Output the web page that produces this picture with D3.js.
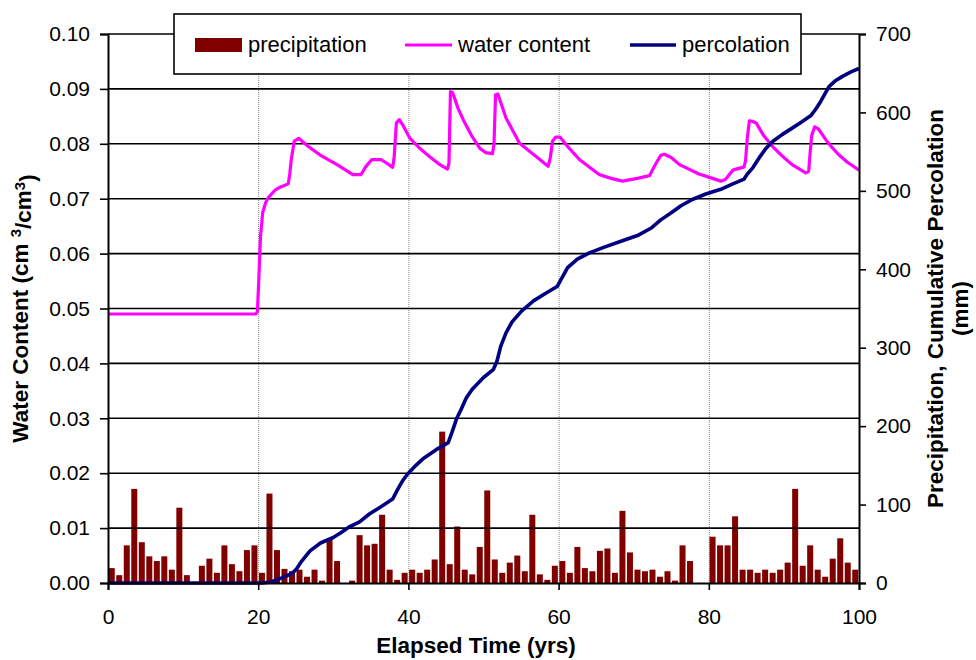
<!DOCTYPE html>
<html>
<head>
<meta charset="utf-8">
<script src="https://cdn.jsdelivr.net/npm/d3@7"></script>
<style>
  html, body { margin: 0; padding: 0; background: #fff; }
  svg { display: block; }
  text { font-family: "Liberation Sans", Arial, sans-serif; fill: #000; }
</style>
</head>
<body>
<svg id="chart" width="976" height="660"></svg>
<script>
// ---- data ----
const precipYears = d3.range(0, 100);
const precipitation = [
  19,10,48,120,52,34,28,34,17,96,
  10,0,22,31,13,48,24,15,42,48,
  13,114,42,18,15,17,8,17,3,57,
  28,0,3,61,48,50,87,17,4,13,
  17,13,17,30,193,24,72,17,11,46,
  118,30,13,26,35,15,87,11,4,22,
  28,13,46,19,15,41,44,13,92,39,
  17,15,17,8,15,3,48,28,0,0,
  59,48,48,85,17,17,13,17,13,17,
  26,120,22,48,17,8,31,57,26,17
];

const waterYears = [0,19.7,19.9,20.1,20.3,20.6,21.0,21.4,22.2,22.9,24.0,24.2,24.4,24.8,25.4,26.5,28.2,30.5,32.6,33.7,34.3,35.1,36.4,37.3,37.9,38.1,38.4,38.8,39.3,40.2,41.5,42.8,44.2,45.2,45.4,45.6,45.9,46.6,47.3,48.4,49.5,50.3,51.2,51.4,51.6,51.9,53.0,54.8,57.0,58.6,58.9,59.2,59.6,60.2,61.4,62.8,65.4,67.0,68.5,70.5,72.1,72.6,73.0,73.6,74.1,75.0,76.1,78.7,80.5,81.6,82.2,83.2,84.7,84.9,85.1,85.4,85.8,86.3,87.3,88.5,90.0,91.1,92.9,93.3,93.5,93.7,94.1,94.6,95.6,96.5,97.3,98.5,100];
const waterContent = [0.049,0.049,0.0495,0.056,0.063,0.0675,0.0693,0.0703,0.0715,0.0721,0.0727,0.0745,0.0771,0.0805,0.0810,0.0797,0.0780,0.0762,0.0744,0.0744,0.0758,0.0771,0.0771,0.0763,0.0757,0.0775,0.0838,0.0844,0.0833,0.0810,0.0792,0.0777,0.0762,0.0754,0.0765,0.0895,0.0893,0.0865,0.0844,0.0815,0.0792,0.0784,0.0782,0.0800,0.0889,0.0891,0.0847,0.0801,0.0777,0.0759,0.0775,0.0805,0.0812,0.0812,0.0792,0.0771,0.0744,0.0737,0.0732,0.0737,0.0742,0.0755,0.0765,0.0779,0.0781,0.0775,0.0762,0.0745,0.0737,0.0732,0.0735,0.0752,0.0758,0.0770,0.0807,0.0842,0.0841,0.0838,0.0815,0.0795,0.0775,0.0762,0.0747,0.0750,0.0785,0.0815,0.0831,0.0827,0.0807,0.0792,0.0780,0.0766,0.0752];

const percYears = [0,20.5,21.5,22.5,23.8,24.6,25.1,25.8,26.9,28.3,30.0,31.0,32.2,33.5,34.8,36.3,37.9,38.5,39.2,39.9,41.0,41.9,43.7,45.3,45.8,46.4,47.0,47.7,48.5,50.0,51.3,51.8,52.3,53.0,53.8,55.1,56.7,58.4,59.8,60.5,61.2,62.5,64.1,66.0,68.4,70.5,72.4,73.6,75.0,76.3,77.8,79.6,81.6,83.2,84.7,85.1,85.9,86.7,87.6,88.5,89.8,91.1,92.4,93.6,94.3,94.9,96.0,96.8,97.8,99.0,100];
const percolation = [0,0,1,4,9,13,18,28,41,51,58,64,72,78,88,97,107,118,130,139,150,158,170,179,192,209,221,236,247,262,272,283,302,319,333,347,360,370,378,390,402,413,421,428,436,443,453,463,472,481,489,496,502,509,515,521,530,542,554,563,572,580,588,596,605,614,633,640,646,652,656];

const leftTicks = [0,0.01,0.02,0.03,0.04,0.05,0.06,0.07,0.08,0.09,0.10];
const rightTicks = [0,100,200,300,400,500,600,700];
const xTicks = [0,20,40,60,80,100];
const legendLabels = ["precipitation","water content","percolation"];
const colors = {precip:"#800000", water:"#FF00FF", perc:"#000080"};

// ---- layout ----
const svg = d3.select("#chart");
const X0 = 108, X1 = 859, Y0 = 583, Y1 = 34;

const x = d3.scaleLinear().domain([0,100]).range([X0,X1]);
const yL = d3.scaleLinear().domain([0,0.10]).range([Y0,Y1]);
const yR = d3.scaleLinear().domain([0,700]).range([Y0,Y1]);
const xb = d3.scaleBand().domain(precipYears).range([X0,X1]).paddingInner(0.2).paddingOuter(0.1);

// vertical dotted gridlines
svg.append("g").selectAll("line").data([20,40,60,80]).join("line")
  .attr("x1", d=>x(d)+0.5).attr("x2", d=>x(d)+0.5)
  .attr("y1", Y1).attr("y2", Y0)
  .attr("stroke", "#808080").attr("stroke-width", 1).attr("stroke-dasharray", "1,1");

// bars
svg.append("g").selectAll("rect").data(precipitation).join("rect")
  .attr("x", (d,i)=>xb(precipYears[i]))
  .attr("width", xb.bandwidth())
  .attr("y", d=>yR(d))
  .attr("height", d=>Y0-yR(d))
  .attr("fill", colors.precip);

// horizontal gridlines
svg.append("g").selectAll("line").data(leftTicks.slice(1)).join("line")
  .attr("x1", X0).attr("x2", X1)
  .attr("y1", d=>yL(d)).attr("y2", d=>yL(d))
  .attr("stroke", "#000").attr("stroke-width", 1.6);

// lines
const wData = waterYears.map((t,i)=>[t, waterContent[i]]);
const pData = percYears.map((t,i)=>[t, percolation[i]]);
svg.append("path").datum(wData)
  .attr("d", d3.line().x(d=>x(d[0])).y(d=>yL(d[1])))
  .attr("fill","none").attr("stroke",colors.water).attr("stroke-width",3.2).attr("stroke-linejoin","round");
svg.append("path").datum(pData)
  .attr("d", d3.line().x(d=>x(d[0])).y(d=>yR(d[1])))
  .attr("fill","none").attr("stroke",colors.perc).attr("stroke-width",3.6).attr("stroke-linejoin","round");

// axes
const fs = "21px";
const gL = svg.append("g").attr("transform", `translate(${X0},0)`)
  .call(d3.axisLeft(yL).tickValues(leftTicks).tickFormat(d3.format(".2f")).tickSize(8).tickPadding(10));
const gR = svg.append("g").attr("transform", `translate(${X1},0)`)
  .call(d3.axisRight(yR).tickValues(rightTicks).tickFormat(d3.format("d")).tickSize(7).tickPadding(10));
const gB = svg.append("g").attr("transform", `translate(0,${Y0})`)
  .call(d3.axisBottom(x).tickValues(xTicks).tickFormat(d3.format("d")).tickSize(7).tickPadding(19));
[gL,gR,gB].forEach(g=>{
  g.select(".domain").attr("stroke","#000").attr("stroke-width",2);
  g.selectAll(".tick line").attr("stroke","#000").attr("stroke-width",1.6);
  g.selectAll(".tick text").attr("font-family","'Liberation Sans', Arial, sans-serif").attr("font-size",fs).attr("fill","#000");
});

// axis titles
const tfs = "22.5px";
svg.append("text").attr("x", 476).attr("y", 653).attr("text-anchor","middle")
  .attr("font-size",tfs).attr("font-weight","bold").text("Elapsed Time (yrs)");

const lt = svg.append("text").attr("transform", `translate(28,${(Y0+Y1)/2}) rotate(-90)`)
  .attr("text-anchor","middle").attr("font-size",tfs).attr("font-weight","bold");
lt.append("tspan").text("Water Content (cm ");
lt.append("tspan").attr("dy","-0.45em").attr("font-size","15px").text("3");
lt.append("tspan").attr("dy","0.45em").text("/cm");
lt.append("tspan").attr("dy","-0.45em").attr("font-size","15px").text("3");
lt.append("tspan").attr("dy","0.45em").text(")");

svg.append("text").attr("transform", `translate(943,${(Y0+Y1)/2}) rotate(-90)`)
  .attr("text-anchor","middle").attr("font-size",tfs).attr("font-weight","bold")
  .text("Precipitation, Cumulative Percolation");
svg.append("text").attr("transform", `translate(968,${(Y0+Y1)/2}) rotate(-90)`)
  .attr("text-anchor","middle").attr("font-size",tfs).attr("font-weight","bold")
  .text("(mm)");

// legend
const lg = svg.append("g");
lg.append("rect").attr("x",174).attr("y",14).attr("width",627).attr("height",60)
  .attr("fill","#fff").attr("stroke","#000").attr("stroke-width",1.6);
lg.append("rect").attr("x",195).attr("y",38).attr("width",47).attr("height",14).attr("fill",colors.precip);
lg.append("line").attr("x1",405).attr("x2",452).attr("y1",45).attr("y2",45).attr("stroke",colors.water).attr("stroke-width",3);
lg.append("line").attr("x1",630).attr("x2",676).attr("y1",45).attr("y2",45).attr("stroke",colors.perc).attr("stroke-width",3.5);
const lx = [248, 458, 682];
lg.selectAll("text.lt").data(legendLabels).join("text").attr("class","lt")
  .attr("x",(d,i)=>lx[i]).attr("y",52).attr("font-size","22px").text(d=>d);
</script>
</body>
</html>
